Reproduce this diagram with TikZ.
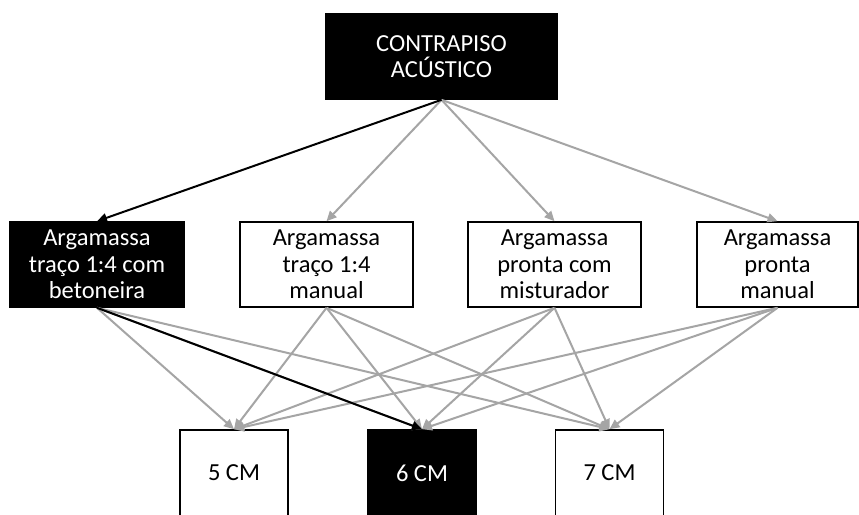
\documentclass[tikz,border=0pt]{standalone}
\usepackage{fontspec}
\setmainfont{Carlito}
\usetikzlibrary{arrows.meta}
\definecolor{arrowgray}{RGB}{165,165,165}
\begin{document}
\begin{tikzpicture}[x=1pt,y=-1pt,
  box/.style={rectangle, draw=black, line width=1.6pt, inner sep=0pt, align=center,
    font=\fontsize{24.5}{26.5}\selectfont},
  darkbox/.style={box, fill=black, text=white},
  lightbox/.style={box, fill=white, text=black},
  midbox/.style={minimum height=85pt},
  botbox/.style={minimum width=108pt, minimum height=86pt},
  grayarrow/.style={draw=arrowgray, line width=2pt, -{Triangle[length=10pt,width=9pt]}},
  blackarrow/.style={draw=black, line width=2pt, -{Triangle[length=10pt,width=9pt]}}
]
\useasboundingbox (0,0) rectangle (859,514);
\fill[white] (0,0) rectangle (859,514);

\node[darkbox, minimum width=231pt, minimum height=85pt] (top) at (441.5,56.5) {CONTRAPISO\\ACÚSTICO};

\node[darkbox, midbox, minimum width=174pt] (m1) at (97,264.5) {Argamassa\\traço 1:4 com\\betoneira};
\node[lightbox, midbox, minimum width=173pt] (m2) at (326.5,264.5) {Argamassa\\traço 1:4\\manual};
\node[lightbox, midbox, minimum width=173pt] (m3) at (554.5,264.5) {Argamassa\\pronta com\\misturador};
\node[lightbox, midbox, minimum width=161pt] (m4) at (777.5,264.5) {Argamassa\\pronta\\manual};

\node[lightbox, botbox] (b1) at (234,473) {5 CM};
\node[darkbox, botbox] (b2) at (422,473) {6 CM};
\node[lightbox, botbox] (b3) at (609.5,473) {7 CM};

% gray connectors
\draw[grayarrow] (top.south) -- (m2.north);
\draw[grayarrow] (top.south) -- (m3.north);
\draw[grayarrow] (top.south) -- (m4.north);
\foreach \m in {m1,m2,m3,m4}{
  \foreach \b in {b1,b2,b3}{
    \draw[grayarrow] (\m.south) -- (\b.north);
  }
}
% highlighted path
\draw[blackarrow] (top.south) -- (m1.north);
\draw[blackarrow] (m1.south) -- (b2.north);
\end{tikzpicture}
\end{document}
